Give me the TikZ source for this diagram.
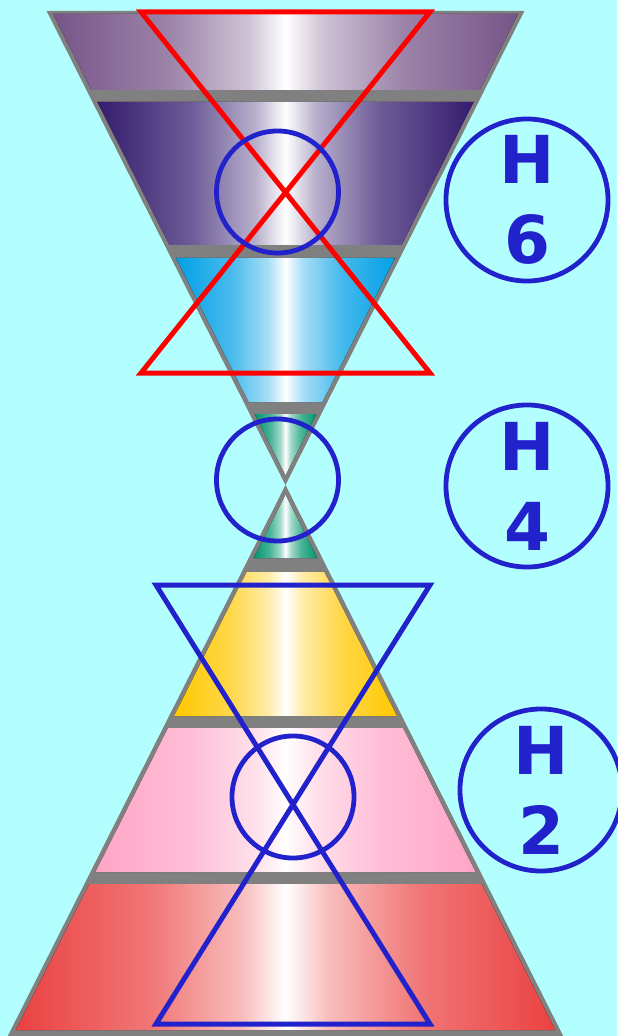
\documentclass[tikz,border=0pt]{standalone}
\usepackage{fontspec}
\setmainfont{DejaVu Sans}
\usetikzlibrary{calc}
\definecolor{bgcolor}{RGB}{179,255,255}
\definecolor{rimcolor}{RGB}{128,128,128}
\definecolor{redline}{RGB}{255,0,0}
\definecolor{blueline}{RGB}{34,34,204}
\definecolor{bandA}{RGB}{118,84,136}
\definecolor{bandB}{RGB}{52,28,110}
\definecolor{bandC}{RGB}{0,160,230}
\definecolor{bandD}{RGB}{0,150,110}
\definecolor{bandE}{RGB}{255,200,0}
\definecolor{bandF}{RGB}{255,165,198}
\definecolor{bandG}{RGB}{235,65,65}
\colorlet{bandcol}{bandA}
\pgfdeclarehorizontalshading[bandcol]{bandshade}{100bp}{%
  color(0bp)=(bandcol); color(25bp)=(bandcol);
  color(37.5bp)=(bandcol!72!white); color(46bp)=(bandcol!35!white);
  color(50bp)=(white); color(54bp)=(bandcol!35!white);
  color(62.5bp)=(bandcol!72!white); color(75bp)=(bandcol);
  color(100bp)=(bandcol)}
\tikzset{
  starln/.style={line width=0.125cm},
  ringln/.style={line width=0.12cm, blueline},
  hlabel/.style={circle, draw=blueline, line width=0.12cm, minimum size=4.05cm,
    inner sep=0pt, align=center, text=blueline,
    font=\bfseries\fontsize{47}{57}\selectfont},
}
% one shaded band of the hourglass, from y=#1 down to y=#2
\newcommand{\band}[3]{%
  \pgfmathsetmacro{\wa}{abs(#1-485)*0.504-5}
  \pgfmathsetmacro{\wb}{abs(#2-485)*0.504-5}
  \colorlet{bandcol}{#3}
  \fill[shading=bandshade]
    (285.5-\wa,#1) -- (285.5+\wa,#1) -- (285.5+\wb,#2) -- (285.5-\wb,#2) -- cycle;
}

\begin{document}
\begin{tikzpicture}[x=0.025cm, y=-0.025cm]
    \useasboundingbox (0,0) rectangle (617,1036);
    \fill[bgcolor] (0,0) rectangle (617,1036);
    % grey hourglass
    \fill[rimcolor] (46.6,11) -- (524.4,11) -- (285.5,485) -- cycle;
    \fill[rimcolor] (285.5,485) -- (563.2,1036) -- (7.8,1036) -- cycle;
    \foreach \ya/\yb/\col in {14/90/bandA, 102/245/bandB, 258/402/bandC,
      414/475/bandD, 495/558/bandD, 572/716/bandE, 728/872/bandF,
      884/1030/bandG} {
      \band{\ya}{\yb}{\col}
    }
    % upper figure
    \draw[starln, redline] (141,12) -- (430,12) -- (141,373) -- (430,373) -- cycle;
    \draw[ringln] (277.5,192) circle[radius=1.525cm];
    % middle
    \draw[ringln] (277.5,480) circle[radius=1.525cm];
    % lower figure
    \draw[starln, blueline] (156,585) -- (430,585) -- (156,1024) -- (430,1024) -- cycle;
    \draw[ringln] (293,797) circle[radius=1.525cm];
    % labels
    \node[hlabel] (h6) at (527,200) {H\\6};
    \node[hlabel] (h4) at (527,486) {H\\4};
    \node[hlabel] (h2) at (541,790) {H\\2};
\end{tikzpicture}
\end{document}
